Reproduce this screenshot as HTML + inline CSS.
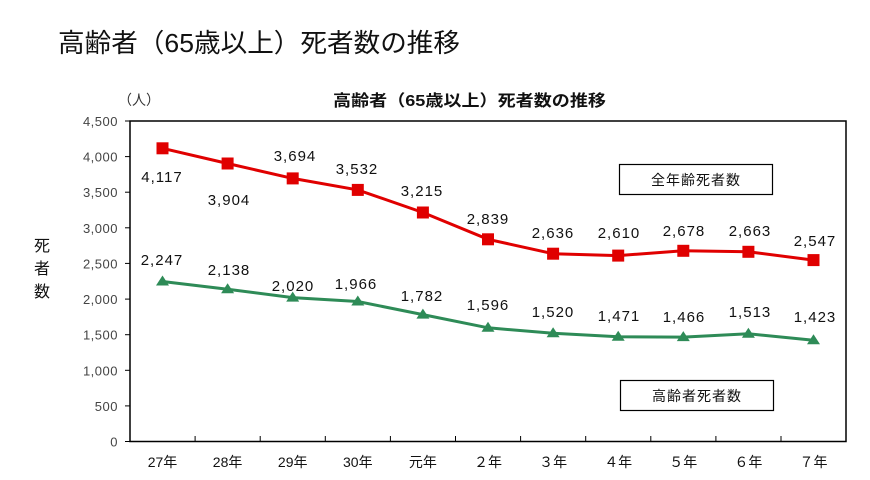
<!DOCTYPE html>
<html><head><meta charset="utf-8"><style>
body{margin:0;background:#fff;}
svg{display:block;font-family:"Liberation Sans","Noto Sans CJK JP",sans-serif;}
</style></head><body>
<svg width="870" height="480" viewBox="0 0 870 480" xmlns="http://www.w3.org/2000/svg">
<text x="58" y="52" font-size="26" fill="#111" textLength="402" lengthAdjust="spacingAndGlyphs">高齢者（65歳以上）死者数の推移</text>
<text x="333" y="106" font-size="16" font-weight="bold" fill="#111" textLength="273" lengthAdjust="spacingAndGlyphs">高齢者（65歳以上）死者数の推移</text>
<text x="118" y="105" font-size="14" fill="#333">（人）</text>
<g font-size="16" fill="#111" text-anchor="middle">
<text x="42" y="251">死</text><text x="42" y="274">者</text><text x="42" y="297">数</text>
</g>
<rect x="130" y="121" width="716" height="320.5" fill="none" stroke="#000" stroke-width="1.5"/>
<g stroke="#000" stroke-width="1">
<line x1="125" y1="121" x2="130" y2="121"/><line x1="125" y1="156.6" x2="130" y2="156.6"/><line x1="125" y1="192.2" x2="130" y2="192.2"/><line x1="125" y1="227.8" x2="130" y2="227.8"/><line x1="125" y1="263.4" x2="130" y2="263.4"/><line x1="125" y1="299.1" x2="130" y2="299.1"/><line x1="125" y1="334.7" x2="130" y2="334.7"/><line x1="125" y1="370.3" x2="130" y2="370.3"/><line x1="125" y1="405.9" x2="130" y2="405.9"/><line x1="125" y1="441.5" x2="130" y2="441.5"/>
</g>
<g font-size="13" fill="#444" text-anchor="end" letter-spacing="0.5">
<text x="118" y="126">4,500</text><text x="118" y="161.6">4,000</text><text x="118" y="197.2">3,500</text><text x="118" y="232.8">3,000</text><text x="118" y="268.4">2,500</text><text x="118" y="304">2,000</text><text x="118" y="339.7">1,500</text><text x="118" y="375.3">1,000</text><text x="118" y="411">500</text><text x="118" y="446.5">0</text>
</g>
<g font-size="14" fill="#111" text-anchor="middle">
<text x="162.5" y="467">27年</text><text x="227.6" y="467">28年</text><text x="292.7" y="467">29年</text><text x="357.8" y="467">30年</text><text x="422.9" y="467">元年</text><text x="488" y="467">２年</text><text x="553.1" y="467">３年</text><text x="618.2" y="467">４年</text><text x="683.3" y="467">５年</text><text x="748.4" y="467">６年</text><text x="813.5" y="467">７年</text>
</g>
<g stroke="#000" stroke-width="1">
<line x1="195.1" y1="441" x2="195.1" y2="436"/><line x1="260.2" y1="441" x2="260.2" y2="436"/><line x1="325.3" y1="441" x2="325.3" y2="436"/><line x1="390.4" y1="441" x2="390.4" y2="436"/><line x1="455.5" y1="441" x2="455.5" y2="436"/><line x1="520.6" y1="441" x2="520.6" y2="436"/><line x1="585.7" y1="441" x2="585.7" y2="436"/><line x1="650.8" y1="441" x2="650.8" y2="436"/><line x1="715.9" y1="441" x2="715.9" y2="436"/><line x1="781" y1="441" x2="781" y2="436"/>
</g>
<polyline fill="none" stroke="#e00000" stroke-width="3" points="162.5,148.3 227.6,163.5 292.7,178.4 357.8,189.9 422.9,212.5 488,239.3 553.1,253.7 618.2,255.6 683.3,250.8 748.4,251.8 813.5,260.1"/>
<g fill="#e00000">
<rect x="156.5" y="142.3" width="12" height="12"/><rect x="221.6" y="157.5" width="12" height="12"/><rect x="286.7" y="172.4" width="12" height="12"/><rect x="351.8" y="183.9" width="12" height="12"/><rect x="416.9" y="206.5" width="12" height="12"/><rect x="482" y="233.3" width="12" height="12"/><rect x="547.1" y="247.7" width="12" height="12"/><rect x="612.2" y="249.6" width="12" height="12"/><rect x="677.3" y="244.8" width="12" height="12"/><rect x="742.4" y="245.8" width="12" height="12"/><rect x="807.5" y="254.1" width="12" height="12"/>
</g>
<polyline fill="none" stroke="#2e8b57" stroke-width="3" points="162.5,281.5 227.6,289.3 292.7,297.6 357.8,301.5 422.9,314.6 488,327.8 553.1,333.3 618.2,336.8 683.3,337.1 748.4,333.8 813.5,340.2"/>
<g fill="#2e8b57">
<path d="M162.5,275.5l6.5,10h-13z"/><path d="M227.6,283.3l6.5,10h-13z"/><path d="M292.7,291.6l6.5,10h-13z"/><path d="M357.8,295.5l6.5,10h-13z"/><path d="M422.9,308.6l6.5,10h-13z"/><path d="M488,321.8l6.5,10h-13z"/><path d="M553.1,327.3l6.5,10h-13z"/><path d="M618.2,330.8l6.5,10h-13z"/><path d="M683.3,331.1l6.5,10h-13z"/><path d="M748.4,327.8l6.5,10h-13z"/><path d="M813.5,334.2l6.5,10h-13z"/>
</g>
<g font-size="15" fill="#111" text-anchor="middle" letter-spacing="1">
<text x="162" y="182">4,117</text><text x="229" y="205">3,904</text><text x="295" y="161">3,694</text><text x="357" y="174">3,532</text><text x="422" y="196">3,215</text><text x="488" y="224">2,839</text><text x="553" y="238">2,636</text><text x="619" y="238">2,610</text><text x="684" y="236">2,678</text><text x="750" y="236">2,663</text><text x="815" y="246">2,547</text>
<text x="162" y="265">2,247</text><text x="229" y="275">2,138</text><text x="293" y="291">2,020</text><text x="356" y="289">1,966</text><text x="422" y="301">1,782</text><text x="488" y="310">1,596</text><text x="553" y="317">1,520</text><text x="619" y="321">1,471</text><text x="684" y="322">1,466</text><text x="750" y="317">1,513</text><text x="815" y="322">1,423</text>
</g>
<rect x="619.5" y="164.5" width="153" height="30" fill="#fff" stroke="#000" stroke-width="1.2"/>
<text x="696" y="185" font-size="14" fill="#111" text-anchor="middle" letter-spacing="1">全年齢死者数</text>
<rect x="620.5" y="380.5" width="153" height="30" fill="#fff" stroke="#000" stroke-width="1.2"/>
<text x="697" y="401" font-size="14" fill="#111" text-anchor="middle" letter-spacing="1">高齢者死者数</text>
</svg>
</body></html>
